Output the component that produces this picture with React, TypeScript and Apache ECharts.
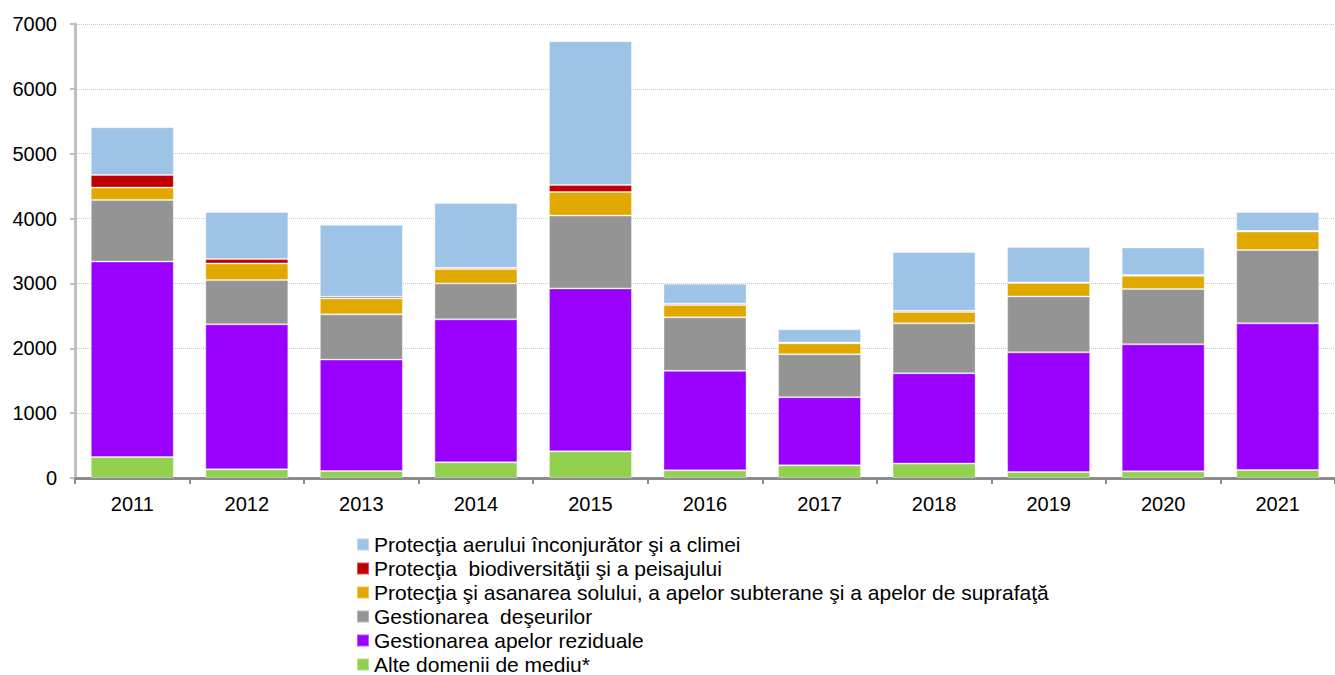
import React, { useEffect, useRef } from "react";
import * as echarts from "echarts";

const years = ["2011", "2012", "2013", "2014", "2015", "2016", "2017", "2018", "2019", "2020", "2021"];
const alteDomenii = [323, 134, 108, 242, 411, 118, 195, 222, 92, 103, 123];
const apeleReziduale = [3015, 2236, 1718, 2204, 2512, 1534, 1051, 1393, 1846, 1959, 2262];
const deseuri = [950, 682, 697, 554, 1123, 825, 662, 770, 862, 852, 1129];
const solSiApe = [190, 256, 246, 221, 364, 191, 169, 175, 206, 204, 286];
const biodiversitate = [195, 67, 26, 21, 108, 20, 11, 20, 9, 11, 11];
const aerSiClima = [735, 728, 1108, 1000, 2216, 307, 204, 903, 545, 425, 289];

const seriesDefs = [
  { name: "Alte domenii de mediu*", data: alteDomenii, color: "#92D050" },
  { name: "Gestionarea apelor reziduale", data: apeleReziduale, color: "#9900FF" },
  { name: "Gestionarea  deşeurilor", data: deseuri, color: "#949494" },
  { name: "Protecţia şi asanarea solului, a apelor subterane şi a apelor de suprafaţă", data: solSiApe, color: "#E1A800" },
  { name: "Protecţia  biodiversităţii şi a peisajului", data: biodiversitate, color: "#C00000" },
  { name: "Protecţia aerului înconjurător şi a climei", data: aerSiClima, color: "#9DC3E6" },
];

export default function App() {
  const ref = useRef<HTMLDivElement>(null);
  useEffect(() => {
    if (!ref.current) return;
    const chart = echarts.init(ref.current, undefined, { renderer: "svg" });
    const font = "Liberation Sans, Arial, sans-serif";
    chart.setOption({
      animation: false,
      backgroundColor: "#ffffff",
      grid: { left: 75, right: 0, top: 24, bottom: 197, containLabel: false },
      legend: {
        orient: "vertical",
        left: 356,
        top: 534,
        height: 200,
        padding: 0,
        itemWidth: 12,
        itemHeight: 12,
        itemGap: 3,
        icon: "rect",
        data: [...seriesDefs].reverse().map((s) => s.name),
        textStyle: { fontFamily: font, fontSize: 21, lineHeight: 21, color: "#000" },
      },
      xAxis: {
        type: "category",
        data: years,
        axisLine: { show: true, lineStyle: { color: "#8c8c8c", width: 3 } },
        axisTick: { show: true, alignWithLabel: false, length: 6, lineStyle: { color: "#8c8c8c", width: 2 } },
        axisLabel: { fontFamily: font, fontSize: 20, color: "#000", margin: 16 },
      },
      yAxis: {
        type: "value",
        min: 0,
        max: 7000,
        interval: 1000,
        axisLine: { show: true, lineStyle: { color: "#bfbfbf", width: 3 } },
        axisTick: { show: true, inside: false, length: 5, lineStyle: { color: "#bfbfbf", width: 2 } },
        axisLabel: { fontFamily: font, fontSize: 20, color: "#000", margin: 18, formatter: (v: number) => String(v) },
        splitLine: { show: true, lineStyle: { color: "#c8c8c8", type: "dotted", width: 1 } },
      },
      series: seriesDefs.map((s) => ({
        name: s.name,
        type: "bar",
        stack: "total",
        data: s.data,
        barWidth: 83,
        itemStyle: { color: s.color, borderColor: "rgba(255,255,255,0.35)", borderWidth: 1 },
      })),
    });
    return () => chart.dispose();
  }, []);
  return <div ref={ref} style={{ position: "absolute", left: 0, top: 0, width: 1335, height: 675 }} />;
}
